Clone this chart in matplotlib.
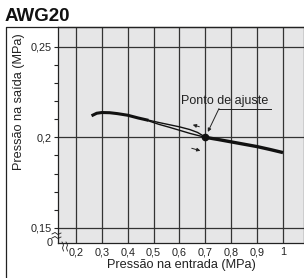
import matplotlib
matplotlib.use("Agg")
import matplotlib.pyplot as plt
from matplotlib.lines import Line2D
from matplotlib.ticker import FixedLocator

plt.rcParams['font.family'] = ['Liberation Sans', 'DejaVu Sans']

# curve data (inlet pressure MPa -> outlet pressure MPa)
x_start = [0.26, 0.28, 0.30, 0.33, 0.36, 0.40, 0.44, 0.48]
y_start = [0.2119, 0.2133, 0.2137, 0.2136, 0.2131, 0.2122, 0.2107, 0.2094]
x_up = [0.48, 0.52, 0.56, 0.60, 0.64, 0.67, 0.70]
y_up = [0.2095, 0.2082, 0.2070, 0.2058, 0.2043, 0.2027, 0.2001]
x_down = [0.48, 0.52, 0.56, 0.60, 0.64, 0.67, 0.70]
y_down = [0.2091, 0.2072, 0.2056, 0.2039, 0.2022, 0.2011, 0.2000]
x_end = [0.70, 0.75, 0.80, 0.85, 0.90, 0.95, 1.00]
y_end = [0.2000, 0.1988, 0.1975, 0.1962, 0.1949, 0.1933, 0.1916]

set_x, set_y = 0.7, 0.2

xticks = [0.2, 0.3, 0.4, 0.5, 0.6, 0.7, 0.8, 0.9, 1.0]
xlabels = ["0,2", "0,3", "0,4", "0,5", "0,6", "0,7", "0,8", "0,9", "1"]
yticks = [0.15, 0.2, 0.25]
ylabels = ["0,15", "0,2", "0,25"]

fig = plt.figure(figsize=(3.04, 2.78), dpi=100)
W, H = 304, 278
ax = fig.add_axes([58 / W, 1 - 243 / H, 1 - 58 / W, (243 - 27) / H])
ax.set_facecolor('#e6e6e7')
ax.set_xlim(0.1304, 1.0812)
ax.set_ylim(0.1417, 0.2609)

for xv in xticks:
    ax.axvline(xv, color='#333333', lw=0.9, zorder=1)
for yv in yticks:
    ax.axhline(yv, color='#333333', lw=0.9, zorder=1)

ax.plot(x_start, y_start, color='#111111', lw=2.2, solid_capstyle='butt', zorder=3)
ax.plot(x_up, y_up, color='#111111', lw=1.0, zorder=3)
ax.plot(x_down, y_down, color='#111111', lw=1.0, zorder=3)
ax.plot(x_end, y_end, color='#111111', lw=2.4, solid_capstyle='butt', zorder=3)
ax.plot([set_x], [set_y], 'o', color='#111111', ms=4.5, zorder=4)

# direction arrows
ax.annotate("", xy=(0.641, 0.2074), xytext=(0.687, 0.2054),
            arrowprops=dict(arrowstyle='-|>', color='#222222', lw=0.7,
                            mutation_scale=5), zorder=4)
ax.annotate("", xy=(0.691, 0.1922), xytext=(0.637, 0.1944),
            arrowprops=dict(arrowstyle='-|>', color='#222222', lw=0.7,
                            mutation_scale=5), zorder=4)

# set point label
ax.text(0.774, 0.2201, "Ponto de ajuste", fontsize=9, ha='center', va='center',
        color='#222222')
ax.plot([0.7527, 0.952], [0.2159, 0.2159], color='#222222', lw=0.7)
ax.annotate("", xy=(0.7095, 0.2030), xytext=(0.7527, 0.2159),
            arrowprops=dict(arrowstyle='-|>', color='#222222', lw=0.7,
                            mutation_scale=5, shrinkA=0, shrinkB=0))

ax.set_xticks(xticks)
ax.set_xticklabels(xlabels)
ax.set_yticks(yticks)
ax.set_yticklabels(ylabels)
ax.yaxis.set_minor_locator(FixedLocator([0.16, 0.17, 0.18, 0.19, 0.21, 0.22,
                                         0.23, 0.24]))
ax.tick_params(axis='x', length=0, pad=3, labelsize=7.8, colors='#222222')
ax.tick_params(axis='y', which='both', length=3, width=0.8, pad=1.5,
               labelsize=7.8, colors='#222222', direction='out')
for s in ax.spines.values():
    s.set_color('#222222')
    s.set_linewidth(0.9)

ax.text(-0.02, 0.0, "0", transform=ax.transAxes, ha='right', va='center',
        fontsize=7.8, color='#222222')

ax.set_xlabel("Pressão na entrada (MPa)", fontsize=9.2, labelpad=1, color='#222222')
ax.set_ylabel("Pressão na saída (MPa)", fontsize=9.2, color='#222222')
ax.yaxis.set_label_coords(-0.134, 0.653)

# axis break marks
for dy in (0, 4):
    yy = 234 + dy
    fig.add_artist(Line2D([52 / W, 55 / W, 58 / W, 61 / W],
                          [1 - yy / H, 1 - (yy - 1.5) / H, 1 - (yy + 0.5) / H,
                           1 - (yy - 1) / H], color='#222222', lw=0.6))
for dx in (0, 4):
    xx = 62 + dx
    fig.add_artist(Line2D([xx / W, (xx + 1.5) / W, (xx + 0.5) / W, (xx + 1.5) / W],
                          [1 - 242 / H, 1 - 245 / H, 1 - 248 / H, 1 - 251 / H],
                          color='#222222', lw=0.6))

# outer frame
fig.add_artist(Line2D([6 / W, 6 / W, 1.0], [0.0, 1 - 27 / H, 1 - 27 / H],
                      color='#222222', lw=0.9))

fig.text(5 / W, 1 - 16.5 / H, "AWG20", fontsize=13.5, fontweight='bold',
         ha='left', va='center', color='#111111')

fig.savefig("out.png", dpi=100)
